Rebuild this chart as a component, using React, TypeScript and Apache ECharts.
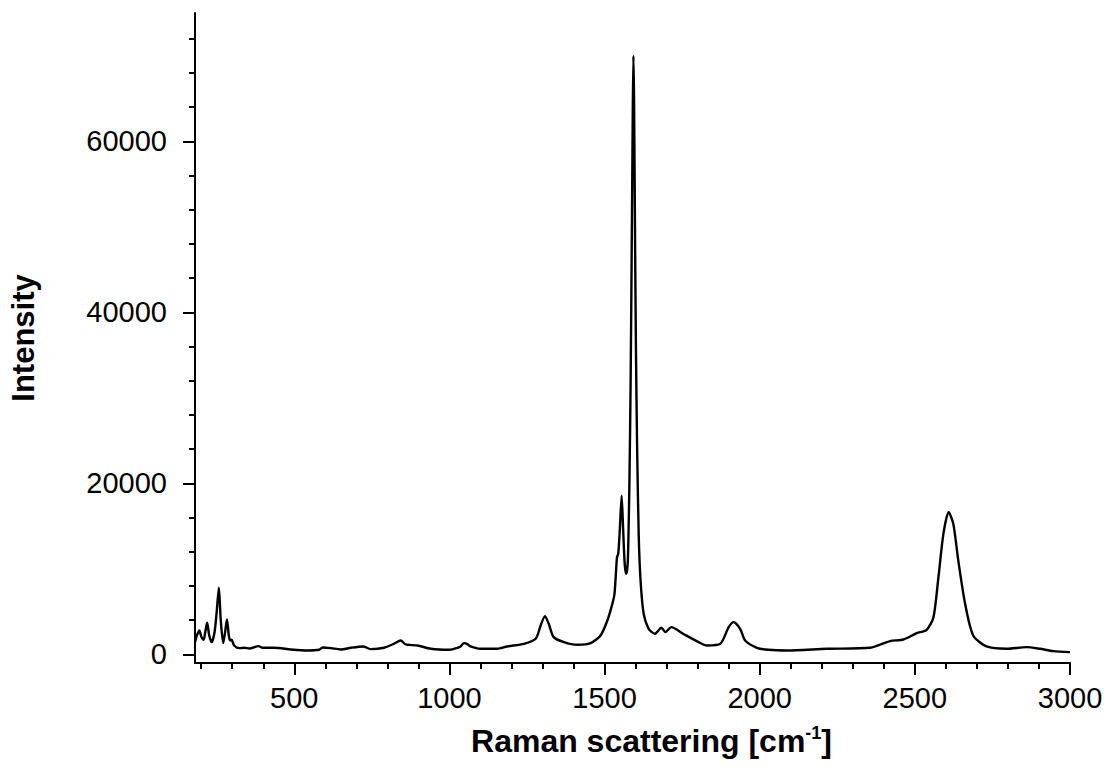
import React, { useEffect, useRef } from "react";
import * as echarts from "echarts";

const wavenumbers = [
  180, 186, 194, 201, 208, 213, 219, 226, 234, 243, 250, 257, 263, 271, 277, 283, 289, 293, 298, 306,
  323, 339, 355, 385, 398, 435, 489, 543, 580, 591, 618, 650, 682, 722, 746, 789, 821, 843, 859, 897,
  940, 999, 1015, 1035, 1047, 1058, 1068, 1100, 1154, 1186, 1240, 1278, 1294, 1308, 1320, 1336, 1369,
  1412, 1455, 1487, 1509, 1525, 1532, 1540, 1544, 1549, 1555, 1560, 1565, 1570, 1575, 1580, 1584, 1588,
  1591, 1593, 1595, 1598, 1601, 1605, 1610, 1616, 1626, 1642, 1662, 1683, 1696, 1715, 1753, 1803, 1830,
  1873, 1900, 1916, 1937, 1953, 1991, 2028, 2088, 2216, 2356, 2420, 2463, 2506, 2538, 2560, 2576, 2592,
  2609, 2624, 2640, 2662, 2688, 2731, 2796, 2860, 2903, 2946, 3000,
];

const intensities = [
  1440, 2200, 2800, 2000, 1717, 2600, 3700, 2200, 1437, 2600, 5000, 7790, 4000, 1320, 2600, 4090, 2200, 1635, 1717, 1050,
  736, 780, 700, 970, 780, 780, 584, 467, 545, 818, 740, 584, 780, 934, 623, 780, 1246, 1635, 1168, 1050,
  662, 545, 660, 900, 1320, 1200, 934, 660, 660, 934, 1246, 1830, 3390, 4480, 3580, 2025, 1440,
  1130, 1320, 2220, 3970, 5920, 7090, 11360, 11760, 14500, 18570, 14500, 10500, 9420, 11000, 20000, 32000, 50000,
  64000, 70000, 65000, 50000, 36000, 24000, 14000, 8640, 4750, 3000, 2420, 3120, 2610, 3190, 2420, 1440, 1050,
  1250, 3190, 3780, 3000, 1635, 780, 545, 467, 662, 780, 1560, 1750, 2490, 2880, 4360, 9030, 14100,
  16620, 15260, 10980, 5920, 2220, 934, 662, 856, 662, 390, 270,
];

const xMajorTicks = [500, 1000, 1500, 2000, 2500, 3000];
const xMinorTicks = [
  200, 300, 400, 600, 700, 800, 900, 1100, 1200, 1300, 1400, 1600, 1700, 1800, 1900,
  2100, 2200, 2300, 2400, 2600, 2700, 2800, 2900,
];
const yMajorTicks = [0, 20000, 40000, 60000];
const yMinorTicks = [
  4000, 8000, 12000, 16000, 24000, 28000, 32000, 36000, 44000, 48000, 52000, 56000,
  64000, 68000, 72000,
];

const FONT = "'Liberation Sans', Arial, sans-serif";

export default function App() {
  const ref = useRef<HTMLDivElement>(null);
  useEffect(() => {
    document.body.style.margin = "0";
    const chart = echarts.init(ref.current!, null, { renderer: "svg" });
    const data = wavenumbers.map((x, i) => [x, intensities[i]]);
    const axisLine = { show: true, lineStyle: { color: "#000", width: 2 } };
    const plain = (v: number) => String(v);
    chart.setOption({
      animation: false,
      backgroundColor: "#fff",
      grid: { left: 194, top: 13, width: 876, height: 650, containLabel: false },
      xAxis: [
        {
          type: "value",
          min: 180,
          max: 3000,
          axisLine: { ...axisLine, onZero: false },
          axisTick: { show: true, customValues: xMajorTicks, length: 12, lineStyle: { color: "#000", width: 2 } },
          axisLabel: {
            customValues: xMajorTicks,
            formatter: plain,
            margin: 20,
            fontFamily: FONT,
            fontSize: 29,
            color: "#000",
          },
          splitLine: { show: false },
          name: "{a|Raman scattering [cm}{s|-1}{a|]}",
          nameLocation: "middle",
          nameGap: 61,
          nameTextStyle: {
            padding: [0, 0, 0, 38],
            rich: {
              a: { fontFamily: FONT, fontWeight: "bold", fontSize: 32, color: "#000" },
              s: { fontFamily: FONT, fontWeight: "bold", fontSize: 18, color: "#000", verticalAlign: "top", padding: [0, 0, 16, 0] },
            },
          },
        },
        {
          type: "value",
          min: 180,
          max: 3000,
          position: "bottom",
          axisLine: { show: false, onZero: false },
          axisTick: { show: true, customValues: xMinorTicks, length: 6, lineStyle: { color: "#000", width: 2 } },
          axisLabel: { show: false },
          splitLine: { show: false },
        },
      ],
      yAxis: [
        {
          type: "value",
          min: -1000,
          max: 75000,
          axisLine: { ...axisLine, onZero: false },
          axisTick: { show: true, customValues: yMajorTicks, length: 12, lineStyle: { color: "#000", width: 2 } },
          axisLabel: {
            customValues: yMajorTicks,
            formatter: plain,
            margin: 28,
            fontFamily: FONT,
            fontSize: 29,
            color: "#000",
          },
          splitLine: { show: false },
          name: "Intensity",
          nameLocation: "middle",
          nameGap: 156,
          nameTextStyle: { fontFamily: FONT, fontWeight: "bold", fontSize: 31, color: "#000" },
        },
        {
          type: "value",
          min: -1000,
          max: 75000,
          position: "left",
          axisLine: { show: false, onZero: false },
          axisTick: { show: true, customValues: yMinorTicks, length: 6, lineStyle: { color: "#000", width: 2 } },
          axisLabel: { show: false },
          splitLine: { show: false },
        },
      ],
      series: [
        {
          type: "line",
          data,
          xAxisIndex: 0,
          yAxisIndex: 0,
          showSymbol: false,
          smooth: 0.25,
          lineStyle: { color: "#000", width: 2.4 },
          silent: true,
        },
      ],
    });
    return () => chart.dispose();
  }, []);
  return <div ref={ref} style={{ width: 1112, height: 780 }} />;
}
